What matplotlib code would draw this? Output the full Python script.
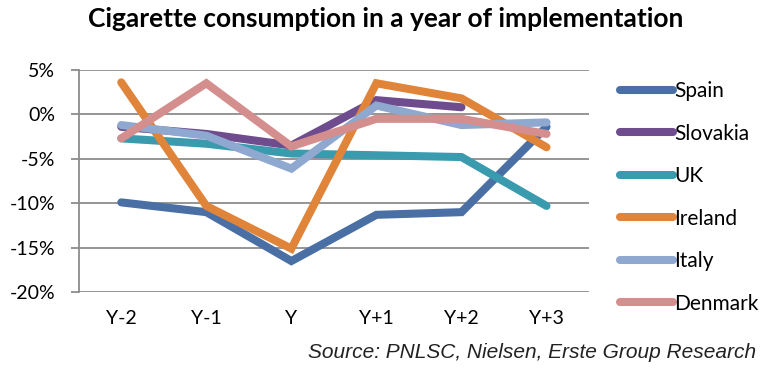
import matplotlib.pyplot as plt
import matplotlib as mpl

mpl.rcParams['font.family'] = ['Lato', 'DejaVu Sans']

periods = ['Y-2', 'Y-1', 'Y', 'Y+1', 'Y+2', 'Y+3']
spain    = [-9.9, -11.0, -16.5, -11.3, -11.0, -1.4]
slovakia = [-1.4, -2.2, -3.5, 1.6, 0.8, None]
uk       = [-2.7, -3.3, -4.4, -4.6, -4.8, -10.3]
ireland  = [3.6, -10.3, -15.1, 3.5, 1.8, -3.7]
italy    = [-1.2, -2.4, -6.1, 1.0, -1.2, -0.9]
denmark  = [-2.7, 3.5, -3.6, -0.5, -0.5, -2.2]

series = [('Spain', spain, '#4a6fa5'),
          ('Slovakia', slovakia, '#6e4c8e'),
          ('UK', uk, '#3a9aae'),
          ('Ireland', ireland, '#e0843a'),
          ('Italy', italy, '#8fa8cf'),
          ('Denmark', denmark, '#d48e8d')]

f = plt.figure(figsize=(7.72, 3.76), dpi=100)
ax = f.add_axes([0.102, 0.223, 0.661, 0.591])

x = list(range(len(periods)))
for name, vals, col in series:
    xs = [i for i, v in zip(x, vals) if v is not None]
    ys = [v for v in vals if v is not None]
    ax.plot(xs, ys, color=col, lw=5.8, solid_capstyle='round',
            solid_joinstyle='miter', label=name)

ax.set_xlim(-0.5, 5.5)
ax.set_ylim(-20, 5)
ax.set_yticks([5, 0, -5, -10, -15, -20])
ax.set_yticklabels(['5%', '0%', '-5%', '-10%', '-15%', '-20%'])
ax.set_xticks(x)
ax.set_xticklabels(periods)
ax.yaxis.grid(True, color='#8c8c8c', lw=1.3)
ax.set_axisbelow(True)
for s in ['top', 'right', 'bottom']:
    ax.spines[s].set_visible(False)
ax.spines['left'].set_color('#8c8c8c')
ax.spines['left'].set_linewidth(1.3)
ax.tick_params(axis='y', direction='out', length=6, color='#8c8c8c',
               width=1.3, labelsize=14, pad=11)
ax.tick_params(axis='x', length=0, labelsize=14, pad=13)

leg = ax.legend(loc='upper left', bbox_to_anchor=(1.061, 0.95), frameon=False,
                fontsize=15, handlelength=2.55, handletextpad=0.05,
                labelspacing=1.08, borderaxespad=0, borderpad=0)

f.text(0.5, 0.95, 'Cigarette consumption in a year of implementation',
       ha='center', va='center', fontsize=19, fontweight='bold')
f.text(0.98, 0.063, 'Source: PNLSC, Nielsen, Erste Group Research',
       ha='right', va='center', fontsize=15, style='italic',
       family='Liberation Sans', color='#222222')

f.savefig('out.png', dpi=100)
